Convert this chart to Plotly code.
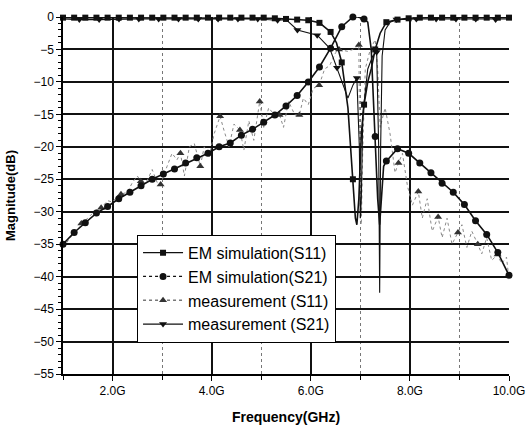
import plotly.graph_objects as go

# ---------------- data ----------------
# EM simulation (S21) - circle markers
em_s21_mf = [1.0, 1.225, 1.45, 1.675, 1.9, 2.125, 2.35, 2.575, 2.8, 3.025, 3.25, 3.475, 3.7, 3.925,
             4.15, 4.375, 4.6, 4.825, 5.05, 5.275, 5.5, 5.725, 5.95, 6.175, 6.4, 6.625, 6.85, 7.075,
             7.3, 7.525, 7.75, 7.975, 8.2, 8.425, 8.65, 8.875, 9.1, 9.325, 9.55, 9.775, 10.0]
em_s21_mdb = [-35.0, -33.2, -31.7, -30.2, -29.2, -28.0, -27.0, -26.0, -25.0, -24.2, -23.4, -22.5, -21.7, -21.0,
              -20.0, -19.4, -18.2, -17.3, -16.2, -15.1, -13.7, -12.1, -10.0, -7.7, -4.8, -1.5, 0.0, -0.3,
              -18.4, -22.2, -20.3, -21.0, -22.5, -24.0, -25.6, -27.0, -28.9, -31.4, -33.5, -36.3, -39.8]
em_s21_lf = [6.95, 7.15, 7.22, 7.35, 7.39, 7.43, 7.47]
em_s21_ldb = [0.0, -0.8, -5.0, -28.0, -32.0, -28.0, -23.0]

# EM simulation (S11) - square markers
em_s11_mf = [1.0, 1.225, 1.45, 1.675, 1.9, 2.125, 2.35, 2.575, 2.8, 3.025, 3.25, 3.475, 3.7, 3.925,
             4.15, 4.375, 4.6, 4.825, 5.05, 5.275, 5.5, 5.725, 5.95, 6.175, 6.4, 6.625, 6.85, 7.075,
             7.3, 7.525, 7.75, 7.975, 8.2, 8.425, 8.65, 8.875, 9.1, 9.325, 9.55, 9.775, 10.0]
em_s11_mdb = [-0.1, -0.1, -0.1, -0.1, -0.1, -0.1, -0.1, -0.1, -0.1, -0.1, -0.1, -0.1, -0.1, -0.1,
              -0.1, -0.1, -0.1, -0.1, -0.1, -0.2, -0.3, -0.4, -0.5, -0.9, -2.3, -7.0, -25.0, -13.5,
              -5.0, -0.8, -0.4, -0.2, -0.1, -0.1, -0.1, -0.1, -0.1, -0.1, -0.1, -0.1, -0.1]
em_s11_lf = [6.52, 6.75, 6.9, 6.93, 6.97, 7.02, 7.15, 7.22, 7.4]
em_s11_ldb = [-4.0, -14.0, -31.0, -32.0, -28.0, -18.0, -10.0, -8.0, -2.5]

# measurement (S11) - triangle-up markers
ms_s11_mf = [1.37, 1.77, 2.17, 2.57, 2.97, 3.37, 3.77, 4.17, 4.57, 4.97, 5.37, 5.77, 6.17,
             6.57, 6.97, 7.77, 8.17, 8.57, 8.97, 9.37, 9.77]
ms_s11_mdb = [-31.8, -29.4, -27.3, -25.3, -25.8, -21.0, -23.0, -15.3, -17.4, -13.0, -15.1, -15.1, -10.5,
              -5.0, -4.3, -22.5, -26.9, -30.8, -33.2, -35.0, -36.6]
ms_s11_lf = [1.0, 1.1, 1.2, 1.3, 1.5, 1.6, 1.7, 1.9, 2.0, 2.1, 2.3, 2.4, 2.5, 2.7, 2.8, 2.9,
             3.1, 3.2, 3.3, 3.45, 3.55, 3.65, 3.85, 3.95, 4.05, 4.25, 4.35, 4.45, 4.65, 4.75,
             4.85, 5.05, 5.15, 5.27, 5.45, 5.55, 5.68, 5.85, 5.95, 6.05, 6.28, 6.38, 6.5, 6.75,
             6.85, 7.0, 7.02, 7.05, 7.1, 7.2, 7.3, 7.35, 7.4, 7.5, 7.6, 7.7, 7.85, 7.95, 8.05,
             8.25, 8.35, 8.45, 8.65, 8.75, 8.85, 9.05, 9.15, 9.25, 9.45, 9.55, 9.65, 9.85, 9.95, 10.0]
ms_s11_ldb = [-35.5, -34.5, -33.5, -32.8, -31.0, -30.2, -29.6, -28.3, -28.5, -27.6, -27.0, -25.5, -24.5, -25.2, -23.5, -25.5,
              -23.0, -21.0, -22.0, -24.5, -20.0, -19.5, -20.0, -21.5, -18.0, -17.5, -20.0, -16.5, -20.5, -16.0,
              -19.0, -17.0, -14.0, -15.1, -17.0, -13.0, -15.1, -12.5, -13.5, -11.0, -8.0, -7.5, -5.5, -5.3,
              -5.0, -31.0, -32.0, -20.0, -8.0, -5.0, -3.5, -8.0, -17.0, -14.0, -18.0, -24.0, -21.0, -26.0, -29.0,
              -31.0, -28.0, -33.0, -34.0, -31.0, -35.0, -32.0, -35.5, -33.0, -36.5, -34.0, -37.5, -38.0, -37.0, -40.5]

# measurement (S21) - triangle-down markers
ms_s21_mf = [1.33, 1.73, 2.13, 2.53, 2.93, 3.33, 3.73, 4.13, 4.53, 4.93, 5.33, 5.73, 6.13, 6.53,
             6.93, 7.33, 7.73, 8.13, 8.53, 8.93, 9.33, 9.73]
ms_s21_mdb = [-0.4, -0.4, -0.3, -0.3, -0.3, -0.3, -0.3, -0.3, -0.3, -0.3, -0.5, -2.0, -2.8, -7.8,
              -9.4, -5.4, -0.4, -0.3, -0.3, -0.3, -0.3, -0.4]
ms_s21_lf = [1.0, 5.5, 5.95, 6.38, 6.75, 6.85, 6.98, 7.0, 7.02, 7.05, 7.15, 7.25, 7.37, 7.39, 7.41,
             7.44, 7.5, 7.6, 10.0]
ms_s21_ldb = [-0.3, -0.4, -2.5, -4.8, -12.5, -10.5, -20.0, -31.0, -28.0, -15.0, -8.0, -6.0, -20.0, -42.5, -20.0,
              -6.0, -2.0, -0.8, -0.3]

legend_names = ["EM simulation(S11)", "EM simulation(S21)", "measurement (S11)", "measurement (S21)"]
x_tickvals = [2, 4, 6, 8, 10]
x_ticktext = ["2.0G", "4.0G", "6.0G", "8.0G", "10.0G"]
y_tickvals = [0, -5, -10, -15, -20, -25, -30, -35, -40, -45, -50, -55]


def merged(mf, mdb, lf, ldb):
    pts = sorted(zip(list(mf) + list(lf), list(mdb) + list(ldb)))
    return [p[0] for p in pts], [p[1] for p in pts]


FONT = "Arial, Liberation Sans, sans-serif"
fig = go.Figure()

series = [
    dict(mf=em_s11_mf, mdb=em_s11_mdb, lf=em_s11_lf, ldb=em_s11_ldb, sym="square", ms=6,
         lc="#111111", lw=1.6, dash="solid", mc="#111111", ldash="solid"),
    dict(mf=em_s21_mf, mdb=em_s21_mdb, lf=em_s21_lf, ldb=em_s21_ldb, sym="circle", ms=7,
         lc="#111111", lw=1.6, dash="solid", mc="#111111", ldash="dot"),
    dict(mf=ms_s11_mf, mdb=ms_s11_mdb, lf=ms_s11_lf, ldb=ms_s11_ldb, sym="triangle-up", ms=7,
         lc="#8a8a8a", lw=1.0, dash="dot", mc="#333333", ldash="dot"),
    dict(mf=ms_s21_mf, mdb=ms_s21_mdb, lf=ms_s21_lf, ldb=ms_s21_ldb, sym="triangle-down", ms=7,
         lc="#111111", lw=1.1, dash="solid", mc="#111111", ldash="solid"),
]

# draw measurement first so simulation lines sit on top
for idx in [2, 3, 0, 1]:
    s = series[idx]
    xf, yf = merged(s["mf"], s["mdb"], s["lf"], s["ldb"])
    fig.add_trace(go.Scatter(x=xf, y=yf, mode="lines", showlegend=False, hoverinfo="skip",
                             line=dict(color=s["lc"], width=s["lw"], dash=s["dash"])))
    fig.add_trace(go.Scatter(x=s["mf"], y=s["mdb"], mode="markers", showlegend=False, cliponaxis=False,
                             marker=dict(symbol=s["sym"], size=s["ms"], color=s["mc"])))

for idx, s in enumerate(series):
    fig.add_trace(go.Scatter(x=[None], y=[None], mode="lines+markers", name=legend_names[idx],
                             line=dict(color=s["lc"] if idx != 2 else "#777777", width=1.3, dash=s["ldash"]),
                             marker=dict(symbol=s["sym"], size=s["ms"], color=s["mc"])))

fig.update_layout(
    width=527, height=426,
    margin=dict(l=63, r=18, t=17, b=52),
    paper_bgcolor="white", plot_bgcolor="white",
    font=dict(family=FONT, color="black", size=12),
    legend=dict(x=0.166, y=0.39, xanchor="left", yanchor="top",
                bgcolor="white", bordercolor="black", borderwidth=1,
                font=dict(size=16, family=FONT, color="black"),
                tracegroupgap=0, itemwidth=40),
)
fig.update_xaxes(
    range=[1, 10], tickvals=x_tickvals, ticktext=x_ticktext, automargin=False,
    showline=True, linecolor="black", linewidth=1.5,
    showgrid=True, gridcolor="#111111", gridwidth=1.5,
    ticks="outside", ticklen=5, tickwidth=1.3, tickcolor="black",
    tickfont=dict(size=12, family=FONT),
    minor=dict(dtick=1, tick0=1, showgrid=True, griddash="dot", gridcolor="#777777", gridwidth=1,
               ticks="outside", ticklen=4, tickcolor="black"),
    title=dict(text="<b>Frequency(GHz)</b>", font=dict(size=14, family=FONT)),
    zeroline=False,
)
fig.update_yaxes(
    range=[-55, 0], tickvals=y_tickvals, automargin=False,
    showline=True, linecolor="black", linewidth=1.5,
    showgrid=True, gridcolor="#111111", gridwidth=1.5,
    ticks="outside", ticklen=5, tickwidth=1.3, tickcolor="black",
    tickfont=dict(size=12, family=FONT),
    minor=dict(dtick=1, ticks="outside", ticklen=3, tickcolor="black", showgrid=False),
    title=dict(text="<b>Magnitude(dB)</b>", font=dict(size=13, family=FONT)),
    zeroline=False,
)

fig.write_html("out.html", config={"displayModeBar": False},
               post_script="document.body.style.margin='0px';document.body.style.overflow='hidden';")
